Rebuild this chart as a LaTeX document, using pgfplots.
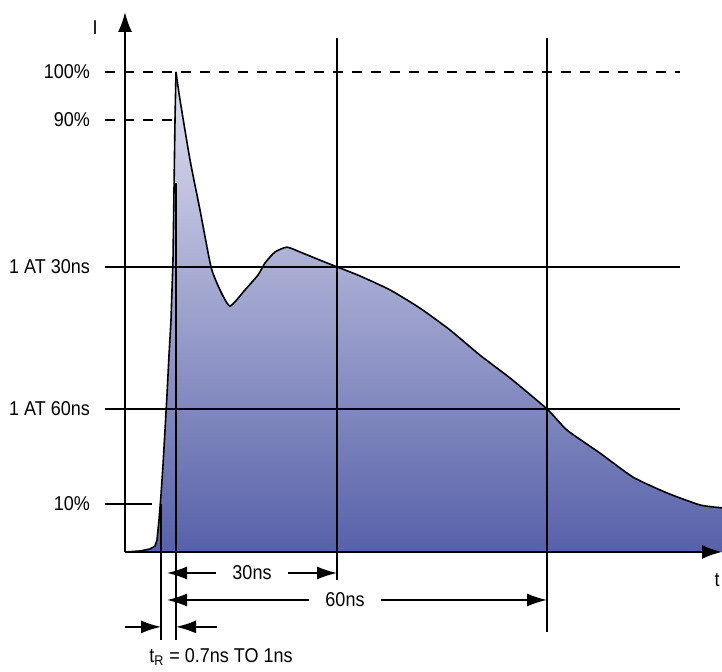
\documentclass[border=0pt]{standalone}
\usepackage{pgfplots}
\pgfplotsset{compat=1.18}
\usepackage{fontspec}
\setmainfont{Liberation Sans}[FakeStretch=0.9]
\usetikzlibrary{arrows.meta}
\definecolor{filltop}{HTML}{E2E2F1}
\definecolor{fillbot}{HTML}{5761A9}
\begin{document}
\begin{tikzpicture}
\begin{axis}[
  name=main,
  x=0.5pt, y=2.4pt,
  xmin=-125, xmax=597, ymin=-25, ymax=115,
  hide axis, clip=false,
  every node/.style={font=\fontsize{9.7}{11}\selectfont},
]
% invisible frame for bounding box
\addplot[draw=none, forget plot] coordinates {(-125,-25) (597,115)};
% filled waveform: rising edge
\addplot[draw=none, top color=filltop, bottom color=fillbot] coordinates {
(0,0) (15,0.21) (25,0.63) (30,1.25) (32,2.5) (34,6.67) (36,11.9) (38,18.1)
(40,25.4) (42,32.7) (44,41.0) (46,48.3) (48,60.8) (49,75.4) (50,90.0) (51,100) (51.6,100)
} \closedcycle;
% filled waveform: decay
\addplot[draw=none, top color=filltop, bottom color=fillbot, smooth, tension=0.35] coordinates {
(51,100) (55,94.2) (65,81.7) (75,71.25) (86,59.4) (95,54.6) (105,51.25) (120,54.6)
(133,57.7) (140,60.2) (150,62.5) (162,63.5) (175,62.5) (195,60.8) (212,59.4)
(235,57.5) (265,54.6) (295,50.8) (325,46.25) (355,41.0) (385,36.25) (422,29.8)
(442,25.4) (475,20.6) (508,15.6) (542,12.3) (575,9.8) (597,9.2)
} \closedcycle;
% outline
\addplot[black, line width=0.8pt] coordinates {
(0,0) (15,0.21) (25,0.63) (30,1.25) (32,2.5) (34,6.67) (36,11.9) (38,18.1)
(40,25.4) (42,32.7) (44,41.0) (46,48.3) (48,60.8) (49,75.4) (50,90.0) (51,100)
};
\addplot[black, line width=0.8pt, smooth, tension=0.35] coordinates {
(51,100) (55,94.2) (65,81.7) (75,71.25) (86,59.4) (95,54.6) (105,51.25) (120,54.6)
(133,57.7) (140,60.2) (150,62.5) (162,63.5) (175,62.5) (195,60.8) (212,59.4)
(235,57.5) (265,54.6) (295,50.8) (325,46.25) (355,41.0) (385,36.25) (422,29.8)
(442,25.4) (475,20.6) (508,15.6) (542,12.3) (575,9.8) (597,9.2)
};
% reference lines
\draw[line width=1pt, dash pattern=on 5pt off 4.5pt] (axis cs:-20,100) -- (axis cs:555,100);
\draw[line width=1pt, dash pattern=on 5pt off 4.5pt] (axis cs:-20,90) -- (axis cs:47,90);
\draw[line width=0.8pt] (axis cs:-20,59.375) -- (axis cs:555,59.375);
\draw[line width=0.8pt] (axis cs:-20,29.79) -- (axis cs:555,29.79);
\draw[line width=0.8pt] (axis cs:-20,10) -- (axis cs:27,10);
\draw[line width=0.8pt] (axis cs:212,107.1) -- (axis cs:212,-5.83);
\draw[line width=0.8pt] (axis cs:422,107.1) -- (axis cs:422,-16.7);
\draw[line width=0.8pt] (axis cs:36,10) -- (axis cs:36,-18.3);
\draw[line width=0.8pt] (axis cs:51,76.9) -- (axis cs:51,-18.3);
% axes
\draw[line width=1pt, -{Latex[length=10pt,width=7pt]}] (axis cs:0,0) -- (axis cs:0,112.5);
\draw[line width=1pt, -{Latex[length=10pt,width=7pt]}] (axis cs:0,0) -- (axis cs:597,0);
% labels
\node[anchor=east] at (axis cs:-28,100) {100\%};
\node[anchor=east] at (axis cs:-28,90) {90\%};
\node[anchor=east] at (axis cs:-28,59.375) {1 AT 30ns};
\node[anchor=east] at (axis cs:-28,29.79) {1 AT 60ns};
\node[anchor=east] at (axis cs:-28,10) {10\%};
\node at (axis cs:-30,109.2) {I};
\node[anchor=east, inner sep=1pt] at (axis cs:597,-5.8) {t};
% dimension arrows
\draw[line width=0.8pt, {Latex[length=10pt,width=6.5pt]}-{Latex[length=10pt,width=6.5pt]}] (axis cs:42,-4.375) -- node[fill=white, inner xsep=8pt, inner ysep=1pt] {30ns} (axis cs:212,-4.375);
\draw[line width=0.8pt, {Latex[length=10pt,width=6.5pt]}-{Latex[length=10pt,width=6.5pt]}] (axis cs:42,-10) -- (axis cs:422,-10);
\node[fill=white, inner xsep=8pt, inner ysep=1pt] at (axis cs:220,-10) {60ns};
\draw[line width=0.8pt, -{Latex[length=10pt,width=6.5pt]}] (axis cs:0,-15.6) -- (axis cs:36,-15.6);
\draw[line width=0.8pt, -{Latex[length=10pt,width=6.5pt]}] (axis cs:92,-15.6) -- (axis cs:51,-15.6);
\node at (axis cs:96,-21.9) {t\textsubscript{R} = 0.7ns TO 1ns};
\end{axis}
\pgfresetboundingbox
\useasboundingbox (main.south west) rectangle (main.north east);
\end{tikzpicture}
\end{document}
